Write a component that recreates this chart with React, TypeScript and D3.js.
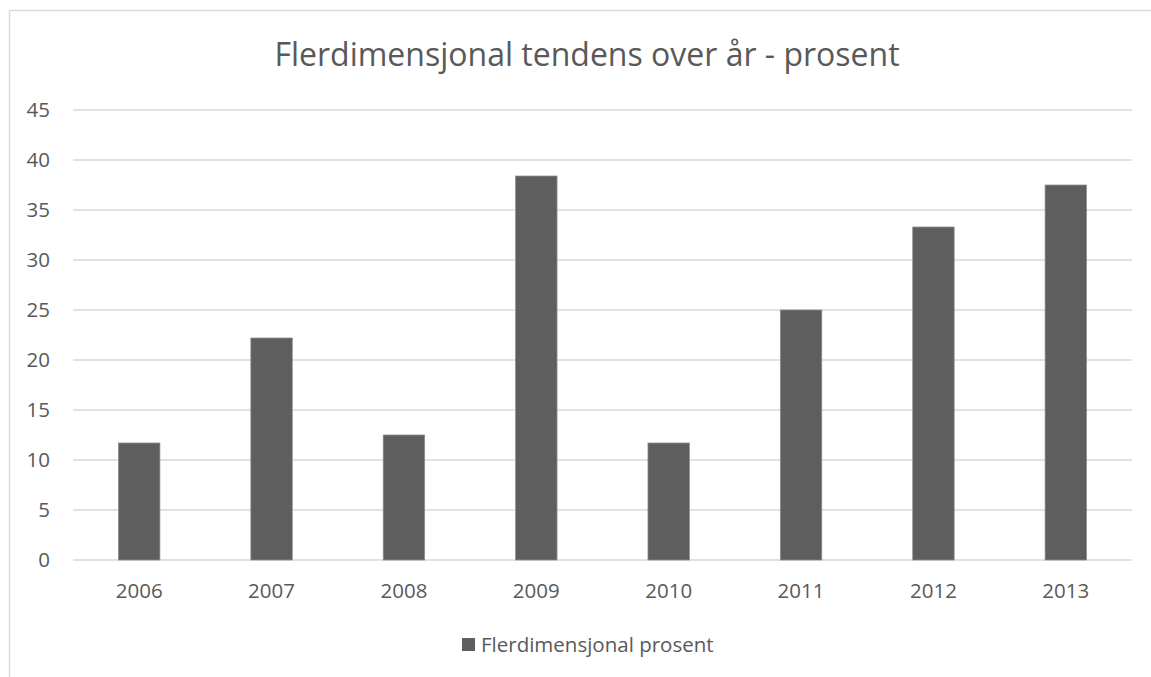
import React from 'react';
import * as d3 from 'd3';

const years = ['2006', '2007', '2008', '2009', '2010', '2011', '2012', '2013'];
const values = [11.7, 22.2, 12.5, 38.4, 11.7, 25, 33.3, 37.5];
const yTicks = [0, 5, 10, 15, 20, 25, 30, 35, 40, 45];

const title = 'Flerdimensjonal tendens over år - prosent';
const seriesName = 'Flerdimensjonal prosent';

const W = 1151;
const H = 677;
const font = '"Open Sans", sans-serif';
const textColor = '#595959';
const gridColor = '#d9d9d9';
const barColor = '#5e5e5e';

const App = () => {
  const x = d3.scaleBand().domain(years).range([73, 1132]).paddingInner(0.687).paddingOuter(0.3435);
  const y = d3.scaleLinear().domain([0, 45]).range([560, 110]);

  return (
    <svg
      width={W}
      height={H}
      style={{ position: 'absolute', left: 0, top: 0, background: '#fff' }}
      fontFamily={font}
    >
      <rect x={9.5} y={10.5} width={W} height={H} fill="#fff" stroke={gridColor} strokeWidth={1.5} />
      <text x={587} y={66} textAnchor="middle" fontSize={32} fill={textColor}>
        {title}
      </text>

      {yTicks.map((t) => (
        <g key={t}>
          <line x1={73} x2={1132} y1={y(t)} y2={y(t)} stroke={gridColor} strokeWidth={1.5} />
          <text x={50} y={y(t)} dy="0.36em" textAnchor="end" fontSize={20.5} fill={textColor}>
            {t}
          </text>
        </g>
      ))}

      {years.map((yr, i) => (
        <g key={yr}>
          <rect
            x={x(yr)}
            y={y(values[i])}
            width={x.bandwidth()}
            height={y(0) - y(values[i])}
            fill={barColor}
            stroke="#8c8c8c"
            strokeWidth={0.75}
          />
          <text
            x={(x(yr) as number) + x.bandwidth() / 2}
            y={598}
            textAnchor="middle"
            fontSize={20.5}
            fill={textColor}
          >
            {yr}
          </text>
        </g>
      ))}

      <rect x={462} y={638} width={13} height={13} fill={barColor} />
      <text x={481} y={652} fontSize={20.5} fill={textColor}>
        {seriesName}
      </text>
    </svg>
  );
};

export default App;
